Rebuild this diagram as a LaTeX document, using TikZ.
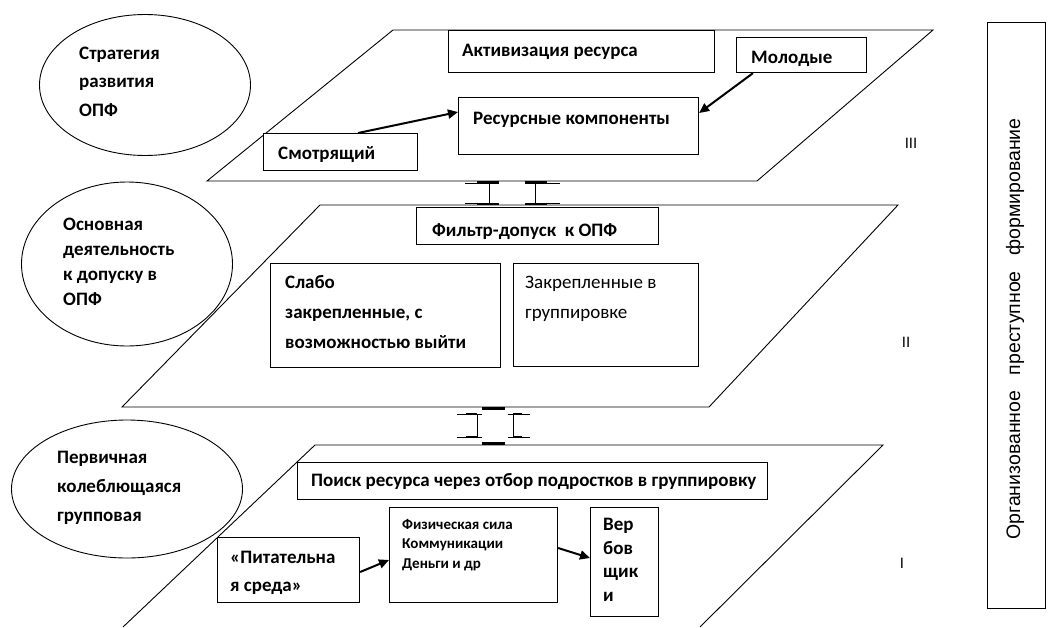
\documentclass[tikz,border=0pt]{standalone}
\usepackage{fontspec}
\setmainfont{Carlito}
\newfontfamily\arialf{Liberation Sans}
\usetikzlibrary{shapes.geometric,arrows.meta}
\begin{document}
\begin{tikzpicture}[x=1pt,y=-1pt,
  plane/.style={draw, line width=0.9pt},
  box/.style={draw, fill=white, line width=1.1pt, anchor=north west, inner sep=0pt},
  oval/.style={draw, ellipse, line width=0.9pt, inner sep=0pt},
  lbl/.style={anchor=base west, inner sep=0pt, align=left, font=\bfseries\fontsize{19}{28}\selectfont},
  conn/.style={line width=2pt, -{Triangle[length=10pt,width=9pt]}},
  bar/.style={line width=0.9pt},
  barthick/.style={line width=2.4pt},
  roman/.style={font=\arialf\fontsize{15}{17}\selectfont, inner sep=0pt}]
\useasboundingbox (0,0) rectangle (1048,627);

% planes
\draw[plane] (393,30) -- (933,30) -- (757,181) -- (207,181) -- cycle;
\draw[plane] (320,205) -- (898,205) -- (709,407) -- (122,407) -- cycle;
\draw[plane] (123,627) -- (315,445) -- (883,445) -- (700,627);

% ellipses
\node[oval, minimum width=211pt, minimum height=141pt] (e1) at (145,85) {};
\node[oval, minimum width=211pt, minimum height=164pt] (e2) at (127,264) {};
\node[oval, minimum width=231pt, minimum height=138pt] (e3) at (127,489) {};
\node[lbl, font=\bfseries\fontsize{19}{28.5}\selectfont] (e1t) at (79,116) {Стратегия\\развития\\ОПФ};
\node[lbl, font=\bfseries\fontsize{19}{25}\selectfont] (e2t) at (63,305) {Основная\\деятельность\\к допуску в\\ОПФ};
\node[lbl, font=\bfseries\fontsize{19}{29}\selectfont] (e3t) at (57,521) {Первичная\\колеблющаяся\\групповая};

% level III
\node[box, minimum width=266pt, minimum height=42pt] (act) at (448,30) {};
\node[lbl] (actt) at (462,56) {Активизация ресурса};
\node[box, minimum width=130pt, minimum height=35pt] (mol) at (736,37) {};
\node[lbl] (molt) at (751,63) {Молодые};
\node[box, minimum width=240pt, minimum height=57pt] (res) at (458,97) {};
\node[lbl] (rest) at (473,124) {Ресурсные компоненты};
\node[box, minimum width=154pt, minimum height=37pt] (smo) at (263,133) {};
\node[lbl] (smot) at (278,159) {Смотрящий};
\draw[conn] (smo.north -| 358,0) -- (res.west |- 0,112);
\draw[conn] (mol.south -| 753,0) -- (res.east |- 0,113);

% level II
\node[box, minimum width=242pt, minimum height=37pt] (fil) at (416,207) {};
\node[lbl] (filt) at (432,236) {Фильтр-допуск~~к ОПФ};
\node[box, minimum width=230pt, minimum height=104pt] (sla) at (270,263) {};
\node[lbl, font=\bfseries\fontsize{19}{30}\selectfont] (slat) at (285,348) {Слабо\\закрепленные, с\\возможностью выйти};
\node[box, minimum width=185pt, minimum height=103pt] (zak) at (513,263) {};
\node[lbl, font=\fontsize{19}{30}\selectfont] (zakt) at (525,318) {Закрепленные в\\группировке};

% level I
\node[box, minimum width=470pt, minimum height=37pt] (poi) at (297,462) {};
\node[lbl] (poit) at (311,486) {Поиск ресурса через отбор подростков в группировку};
\node[box, minimum width=142pt, minimum height=65pt] (pit) at (217,537) {};
\node[lbl, font=\bfseries\fontsize{19}{28}\selectfont] (pitt) at (230,591) {«Питательна\\я среда»};
\node[box, minimum width=168pt, minimum height=95pt] (fiz) at (389,507) {};
\node[lbl, font=\bfseries\fontsize{15}{19.5}\selectfont] (fizt) at (402,568) {Физическая сила\\Коммуникации\\Деньги и др};
\node[box, minimum width=68pt, minimum height=109pt] (ver) at (590,507) {};
\node[lbl, font=\bfseries\fontsize{19}{23.5}\selectfont] (vert) at (603,601) {Вер\\бов\\щик\\и};
\draw[conn] (pit.east |- 0,572) -- (fiz.west |- 0,560);
\draw[conn] (fiz.east |- 0,548) -- (ver.west |- 0,558);

% links between levels
\coordinate (l1a) at (465,183); \coordinate (l1b) at (499,203);
\draw[bar] (l1a) -- (l1a -| l1b) (489,183) -- (489,203) (l1a |- l1b) -- (l1b);
\draw[barthick] (477,182) -- (499,182) (477,204) -- (499,204);
\coordinate (l2a) at (525,183); \coordinate (l2b) at (560,203);
\draw[bar] (l2a) -- (l2a -| l2b) (535,183) -- (535,203) (l2a |- l2b) -- (l2b);
\draw[barthick] (525,182) -- (547,182) (525,204) -- (547,204);

\coordinate (l3a) at (457,414); \coordinate (l3b) at (482,437);
\draw[bar] (l3a) -- (l3a -| l3b) (477,414) -- (477,437) (l3a |- l3b) -- (l3b);
\draw[barthick] (482,408.5) -- (505,408.5) (482,443.5) -- (505,443.5);
\coordinate (l4a) at (508,414); \coordinate (l4b) at (530,437);
\draw[bar] (l4a) -- (l4a -| l4b) (513,414) -- (513,437) (l4a |- l4b) -- (l4b);
\draw[barthick] (466,414) -- (477,414) (466,437) -- (477,437) (513,414) -- (522,414) (513,437) -- (522,437);

% roman numerals
\node[roman] (r3) at (911,143) {III};
\node[roman] (r2) at (906,342) {II};
\node[roman] (r1) at (902,563) {I};

% right box
\node[draw, line width=1.1pt, anchor=north west, minimum width=58pt, minimum height=586pt, inner sep=0pt] (org) at (987,22) {};
\node[rotate=90, font=\arialf\fontsize{19.5}{22}\selectfont, inner sep=0pt] (orgt) at (1015,329) {Организованное\hspace{0.8em}преступное\hspace{0.8em}формирование};
\end{tikzpicture}
\end{document}
